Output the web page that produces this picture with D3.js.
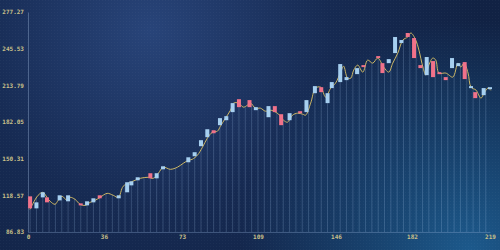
<!DOCTYPE html>
<html>
<head>
<meta charset="utf-8">
<script src="https://cdn.jsdelivr.net/npm/d3@7"></script>
<style>
  body { margin: 0; background: #14264a; }
  svg { display: block; }
  .axis text { font-family: "DejaVu Sans Mono", monospace; font-size: 6px; font-weight: bold; fill: #c9c08a; }
</style>
</head>
<body>
<svg id="chart" width="500" height="250"></svg>
<script>
// price line (x in periods, y in price)
var lineT = [0.9, 2.4, 4.8, 7.1, 9.0, 10.5, 12.8, 14.3, 16.2, 18.5, 20.0, 22.3, 24.7, 27.1, 29.5, 31.8, 34.2, 37.5, 40.4, 42.8,
  45.1, 47.5, 50.8, 53.2, 57.0, 59.4, 61.8, 64.1, 67.5, 70.8, 73.6, 76.0, 77.9, 80.3, 82.7, 85.0, 87.4, 89.8, 91.2, 93.6,
  96.0, 97.4, 99.8, 102.1, 104.0, 105.5, 107.8, 110.2, 112.6, 115.0, 117.3, 118.8, 121.1, 123.0, 125.4, 127.8, 130.2, 131.6, 134.0, 136.3,
  138.7, 141.1, 143.5, 145.8, 148.2, 149.6, 151.5, 153.0, 154.4, 156.3, 158.7, 161.0, 163.4, 165.8, 168.6, 171.0, 172.9, 175.3, 177.7, 180.0,
  181.5, 183.8, 185.3, 187.2, 188.6, 190.0, 191.9, 193.3, 194.8, 198.1, 201.4, 203.8, 205.2, 206.7, 208.6, 210.0, 212.4, 214.7, 216.2, 218.0, 219.4];
var lineV = [106.4, 111.6, 118.6, 121.2, 116.8, 113.4, 110.8, 114.2, 117.7, 114.2, 116.8, 115.1, 110.8, 109.9, 112.5, 114.2, 116.8, 120.3, 118.6, 116.8,
  126.4, 129.0, 131.6, 133.3, 134.2, 133.3, 137.7, 142.9, 141.1, 142.9, 146.3, 148.9, 149.8, 153.3, 160.2, 168.0, 173.2, 174.1, 178.4, 185.4,
  192.3, 198.4, 198.4, 194.9, 196.6, 198.4, 194.0, 194.0, 191.4, 192.3, 190.6, 188.8, 183.6, 181.9, 188.0, 189.7, 188.8, 188.0, 198.4, 211.4,
  212.2, 203.6, 211.4, 215.7, 225.2, 230.4, 220.0, 220.0, 227.0, 231.3, 225.2, 235.6, 233.0, 237.4, 229.6, 225.2, 233.0, 241.7, 253.0, 255.6,
  259.1, 253.0, 244.3, 229.6, 222.6, 231.3, 237.4, 235.6, 224.4, 224.4, 220.9, 233.0, 229.6, 233.0, 224.4, 212.2, 209.6, 202.7, 207.0, 211.4, 209.6];

// candle bodies
var candleT = [1, 4, 7, 9, 15, 19, 25, 28, 31, 34, 43, 47, 49, 52, 58, 61, 64, 76, 79, 82, 85, 88, 91, 94, 97, 100, 105, 108, 114, 117,
  120, 124, 129, 132, 136, 139, 142, 144, 148, 151, 156, 159, 166, 168, 171, 174, 177, 180, 183, 186, 189, 192, 195, 198, 201, 204, 207, 210, 212, 216, 219];
var candleOpen = [117.7, 107.3, 116.8, 116.8, 114.2, 113.4, 111.6, 109.9, 112.5, 118.6, 116.0, 121.2, 127.2, 131.6, 137.7, 133.3, 141.1, 147.2, 152.4, 161.1,
  168.9, 174.9, 179.3, 183.6, 190.6, 201.8, 201.0, 192.3, 186.2, 195.8, 188.8, 183.6, 191.4, 190.6, 207.0, 212.2, 198.4, 211.4, 216.6, 218.3,
  223.5, 231.3, 239.1, 233.0, 233.0, 241.7, 250.4, 259.1, 254.7, 231.3, 222.6, 234.8, 225.2, 220.9, 228.7, 230.4, 233.9, 211.4, 207.9, 205.3, 210.5];
var candleClose = [107.3, 112.5, 121.2, 112.5, 118.6, 118.6, 109.9, 113.4, 116.0, 116.0, 118.6, 129.9, 130.7, 134.2, 133.3, 137.7, 143.7, 151.5, 155.9, 166.3,
  175.8, 172.3, 185.4, 187.1, 198.4, 194.9, 194.9, 194.9, 195.8, 190.6, 179.3, 189.7, 189.7, 201.0, 213.1, 207.9, 207.0, 216.6, 232.2, 220.9,
  228.7, 229.6, 237.4, 224.4, 236.5, 255.6, 253.0, 255.6, 237.4, 228.7, 238.3, 220.9, 223.5, 218.3, 237.4, 233.0, 219.2, 213.1, 202.7, 211.4, 212.2];

var yTicks = [86.83, 118.57, 150.31, 182.05, 213.79, 245.53, 277.27];
var xTicks = [0, 36, 73, 109, 146, 182, 219];

var svg = d3.select("#chart"),
    plotL = 28, plotR = 490, plotT = 12, plotB = 232;

var x = d3.scaleLinear().domain([0, 219]).range([plotL, plotR]);
var y = d3.scaleLinear().domain([86.83, 277.27]).range([plotB, plotT]);

// background
var defs = svg.append("defs");
var g1 = defs.append("radialGradient").attr("id", "bgA")
    .attr("gradientUnits", "userSpaceOnUse").attr("cx", 150).attr("cy", 30).attr("r", 330);
g1.append("stop").attr("offset", "0%").attr("stop-color", "#284479");
g1.append("stop").attr("offset", "55%").attr("stop-color", "#162a52");
g1.append("stop").attr("offset", "100%").attr("stop-color", "#112244");
var g2 = defs.append("radialGradient").attr("id", "bgB")
    .attr("gradientUnits", "userSpaceOnUse").attr("cx", 470).attr("cy", 250).attr("r", 230);
g2.append("stop").attr("offset", "0%").attr("stop-color", "#1d5c8f").attr("stop-opacity", 0.95);
g2.append("stop").attr("offset", "100%").attr("stop-color", "#1d5c8f").attr("stop-opacity", 0);
var pat = defs.append("pattern").attr("id", "dots")
    .attr("patternUnits", "userSpaceOnUse").attr("width", 3).attr("height", 3);
pat.append("rect").attr("width", 1).attr("height", 1).attr("fill", "rgba(255,255,255,0.03)");

svg.append("rect").attr("width", 500).attr("height", 250).attr("fill", "url(#bgA)");
svg.append("rect").attr("width", 500).attr("height", 250).attr("fill", "url(#bgB)");
svg.append("rect").attr("width", 500).attr("height", 250).attr("fill", "url(#dots)");

// value of the line at any t
function lineAt(t) {
    var i = d3.bisectLeft(lineT, t);
    if (i <= 0) return lineV[0];
    if (i >= lineT.length) return lineV[lineV.length - 1];
    var k = (t - lineT[i - 1]) / (lineT[i] - lineT[i - 1]);
    return lineV[i - 1] + k * (lineV[i] - lineV[i - 1]);
}

// stems from the line down to the axis
svg.append("g")
    .selectAll("line")
    .data(d3.range(1, 220, 3))
    .enter()
    .append("line")
    .attr("x1", function (d) { return x(d); })
    .attr("x2", function (d) { return x(d); })
    .attr("y1", function (d) { return y(lineAt(d)); })
    .attr("y2", plotB)
    .attr("stroke", "rgba(170,200,235,0.22)")
    .attr("stroke-width", 1);

// axes
svg.append("g")
    .attr("class", "axis")
    .attr("transform", "translate(" + plotL + ",0)")
    .call(d3.axisLeft(y).tickValues(yTicks).tickFormat(d3.format(".2f")).tickSize(0).tickPadding(4))
    .call(function (g) { g.select(".domain").attr("stroke", "rgba(140,165,200,0.45)"); });

svg.append("g")
    .attr("class", "axis")
    .attr("transform", "translate(0," + plotB + ")")
    .call(d3.axisBottom(x).tickValues(xTicks).tickFormat(d3.format("d")).tickSize(0).tickPadding(3))
    .call(function (g) { g.select(".domain").attr("stroke", "rgba(140,170,210,0.35)"); });

// price line
var pts = lineT.map(function (t, i) { return [t, lineV[i]]; });
svg.append("path")
    .datum(pts)
    .attr("fill", "none")
    .attr("stroke", "#cdb764")
    .attr("stroke-width", 1)
    .attr("d", d3.line()
        .x(function (d) { return x(d[0]); })
        .y(function (d) { return y(d[1]); })
        .curve(d3.curveCatmullRom));

// candles
var candles = candleT.map(function (t, i) { return {t: t, o: candleOpen[i], c: candleClose[i]}; });
svg.append("g")
    .selectAll("rect")
    .data(candles)
    .enter()
    .append("rect")
    .attr("x", function (d) { return x(d.t) - 2; })
    .attr("width", 4)
    .attr("y", function (d) { return y(Math.max(d.o, d.c)); })
    .attr("height", function (d) { return Math.max(2, Math.abs(y(d.o) - y(d.c))); })
    .attr("fill", function (d) { return d.c >= d.o ? "#a6cff0" : "#f0728a"; });
</script>
</body>
</html>
